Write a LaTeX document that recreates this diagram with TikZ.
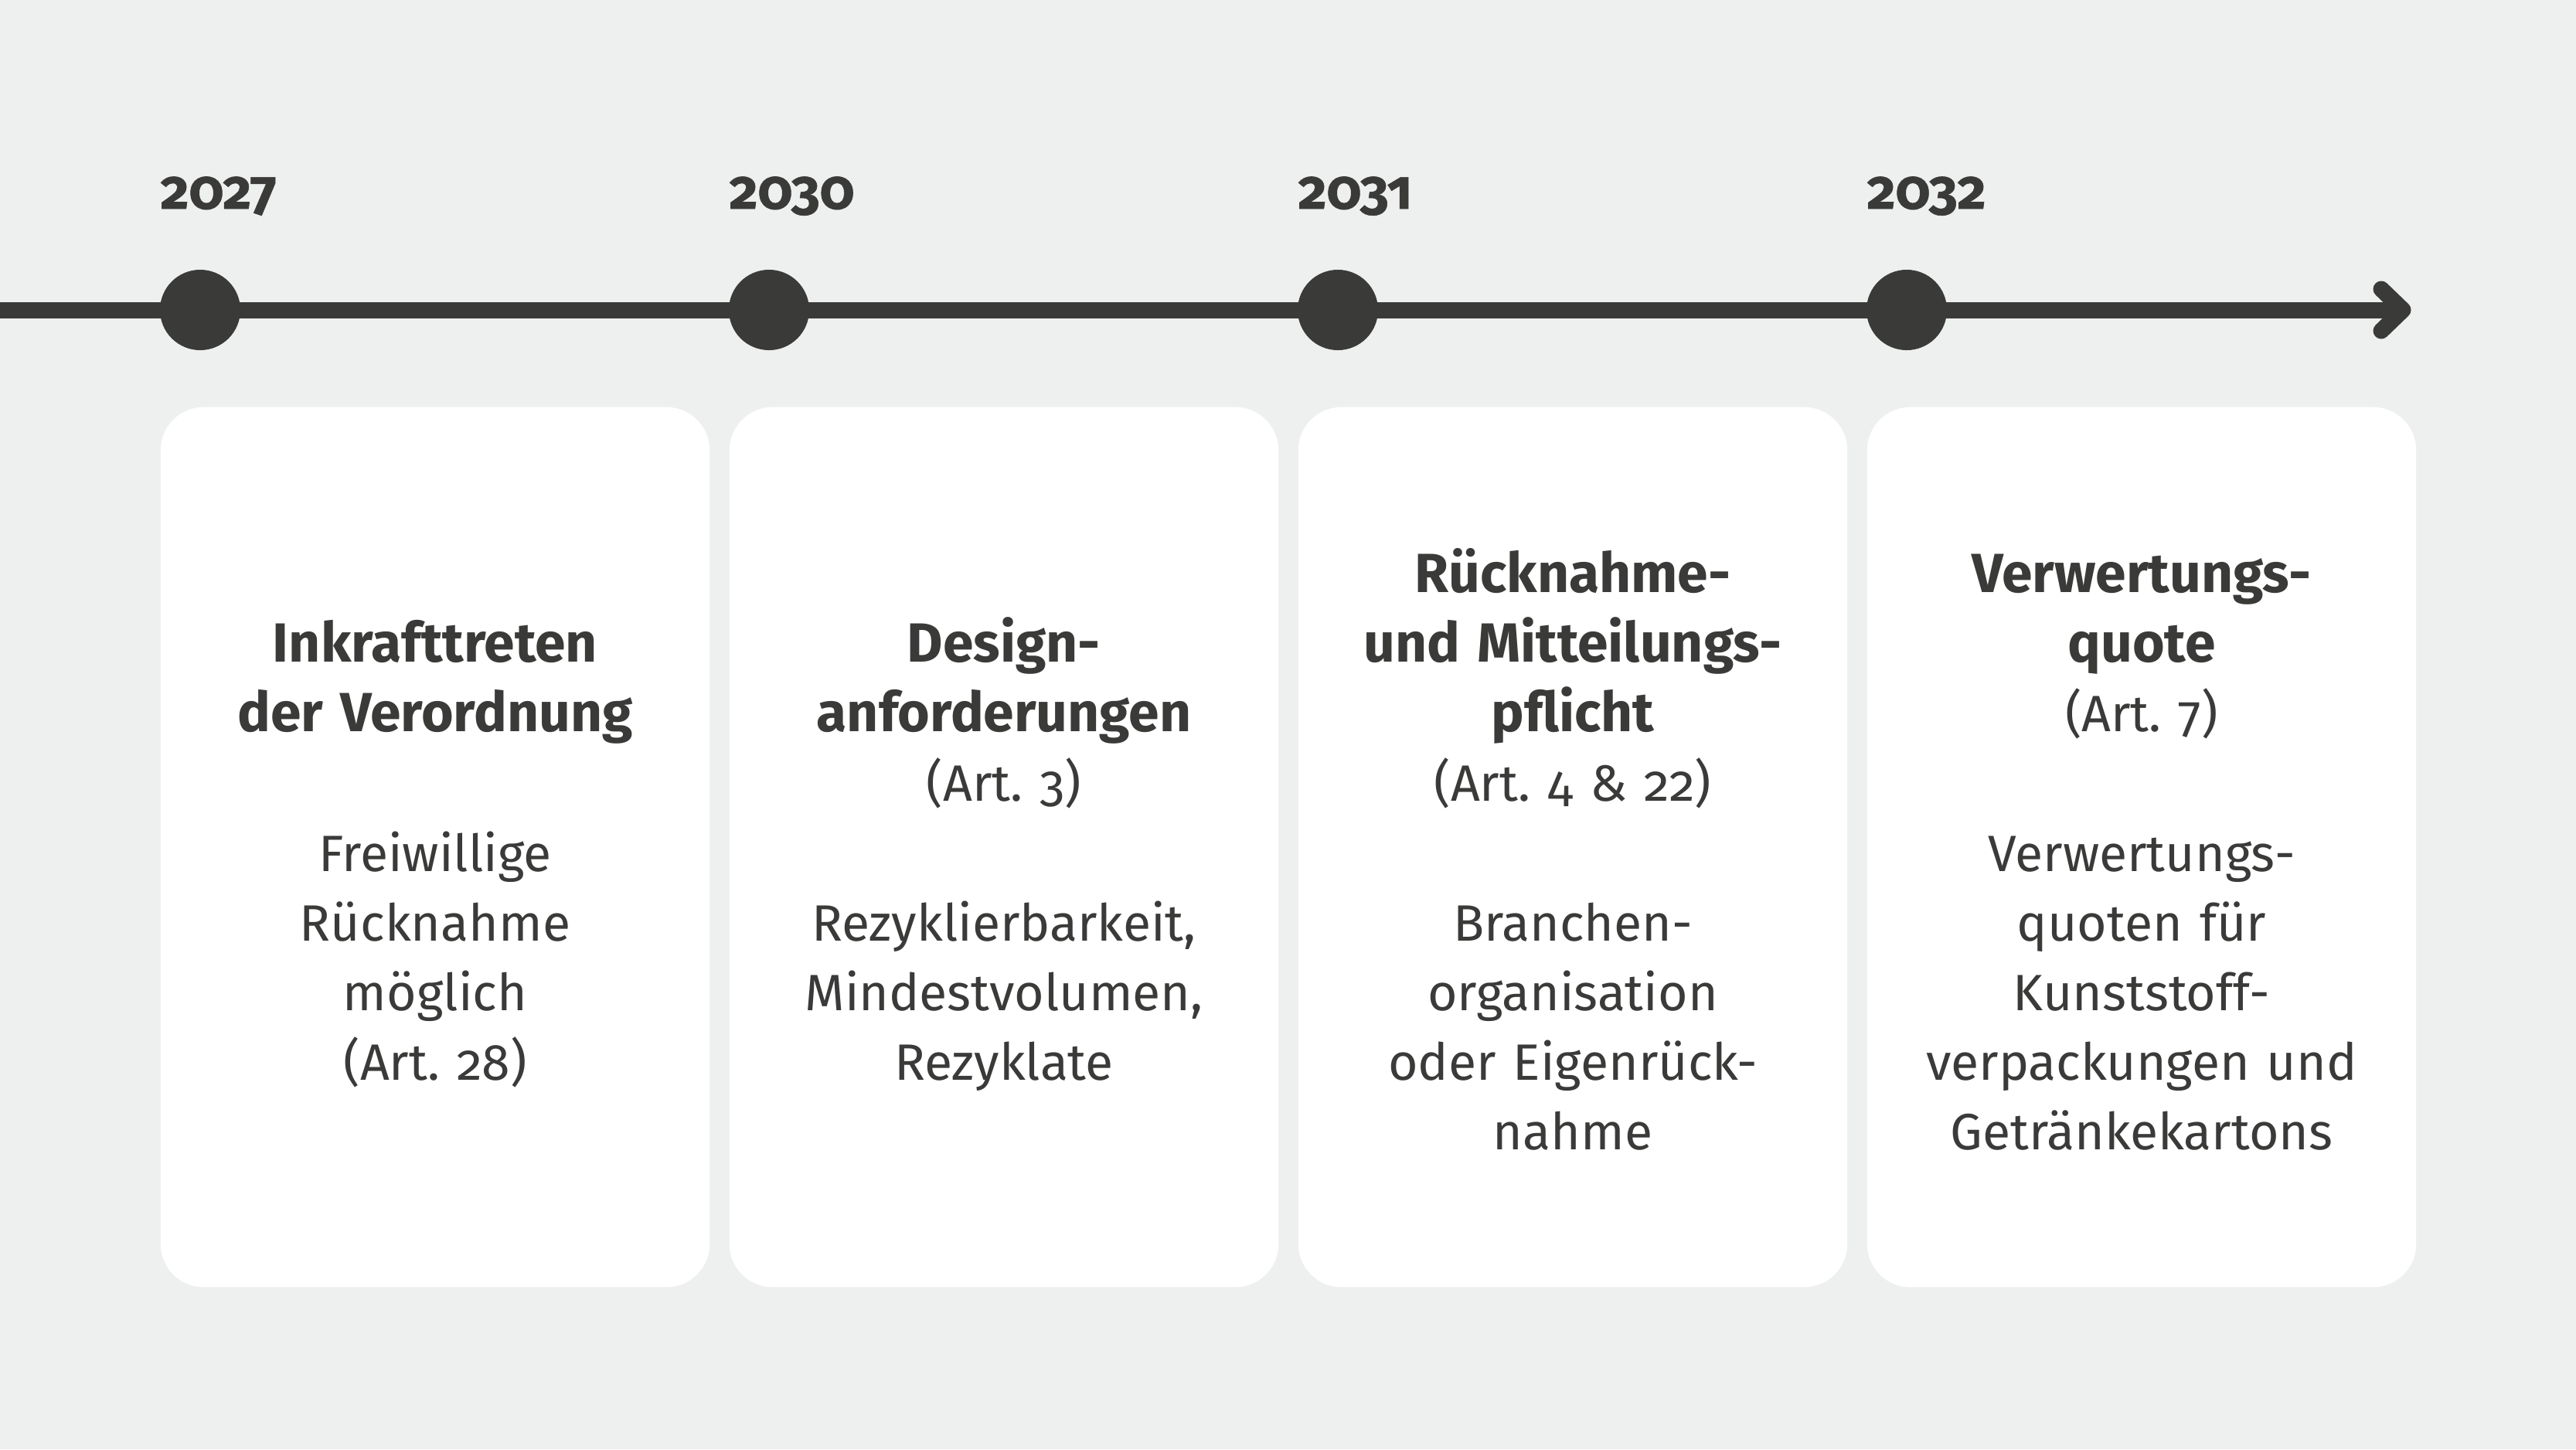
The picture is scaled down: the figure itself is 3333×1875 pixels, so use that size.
\documentclass[tikz,border=0pt]{standalone}
\usepackage{fontspec}
\setmainfont{Fira Sans}[Numbers=OldStyle]
\frenchspacing
\definecolor{ink}{HTML}{3A3B39}
\definecolor{bg}{HTML}{EEF0EF}
\newcommand\hdfont{\bfseries\fontsize{20.3pt}{25.6pt}\selectfont}
\newcommand\bdfont{\mdseries\fontsize{18.8pt}{25.6pt}\selectfont}
\begin{document}
\begin{tikzpicture}[x=0.01cm,y=-0.01cm]
\tikzset{
  card/.style={fill=white, rounded corners=0.56cm, inner sep=0, minimum width=7.1cm, minimum height=11.38cm},
  dot/.style={circle, fill=ink, minimum size=1.04cm, inner sep=0},
  year/.style={anchor=base west, text=ink, inner sep=0, font=\bfseries\fontsize{20.3pt}{25pt}\selectfont\addfontfeature{FakeBold=0.8}},
  txt/.style={text=ink, align=center, text width=8cm, inner sep=0, font=\bdfont},
  tl/.style={draw=ink, line width=0.21cm},
  chev/.style={draw=ink, line width=0.21cm, line cap=round, line join=round},
}
\fill[bg] (0,0) rectangle (3333,1875);
\useasboundingbox (0,0) rectangle (3333,1875);

% timeline
\coordinate (tlstart) at (0,401);
\coordinate (tlend) at (3109,401);
\draw[tl] (tlstart) -- (tlend);
\draw[chev] (tlend) ++(-28,-27) -- (tlend) -- ++(-28,27);

% cards
\foreach \i/\x in {1/563,2/1299,3/2035,4/2771}{
  \node[card] (c\i) at (\x,1096) {};
}

% dots and years
\foreach \i/\x/\yr in {1/259/2027,2/995/2030,3/1731/2031,4/2467/2032}{
  \node[dot] (d\i) at (\x,401) {};
  \node[year] (y\i) at (\x-52,270) {\yr};
}

% texts
\node[txt] (t1) at (563,1109) {\strut\hdfont Inkrafttreten\\der Verordnung\\[\baselineskip]\bdfont
Freiwillige\\Rücknahme\\möglich\\(Art. 28)\strut};
\node[txt] (t2) at (1299,1109) {\strut\hdfont Design-\\anforderungen\\\bdfont (Art. 3)\\[\baselineskip]
Rezyklierbarkeit,\\Mindestvolumen,\\Rezyklate\strut};
\node[txt] (t3) at (2035,1109) {\strut\hdfont Rücknahme-\\und Mitteilungs-\\pflicht\\\bdfont (Art. 4 \& 22)\\[\baselineskip]
Branchen-\\organisation\\oder Eigenrück-\\nahme\strut};
\node[txt] (t4) at (2771,1109) {\strut\hdfont Verwertungs-\\quote\\\bdfont (Art. 7)\\[\baselineskip]
Verwertungs-\\quoten für\\Kunststoff-\\verpackungen und\\Getränkekartons\strut};
\end{tikzpicture}
\end{document}
